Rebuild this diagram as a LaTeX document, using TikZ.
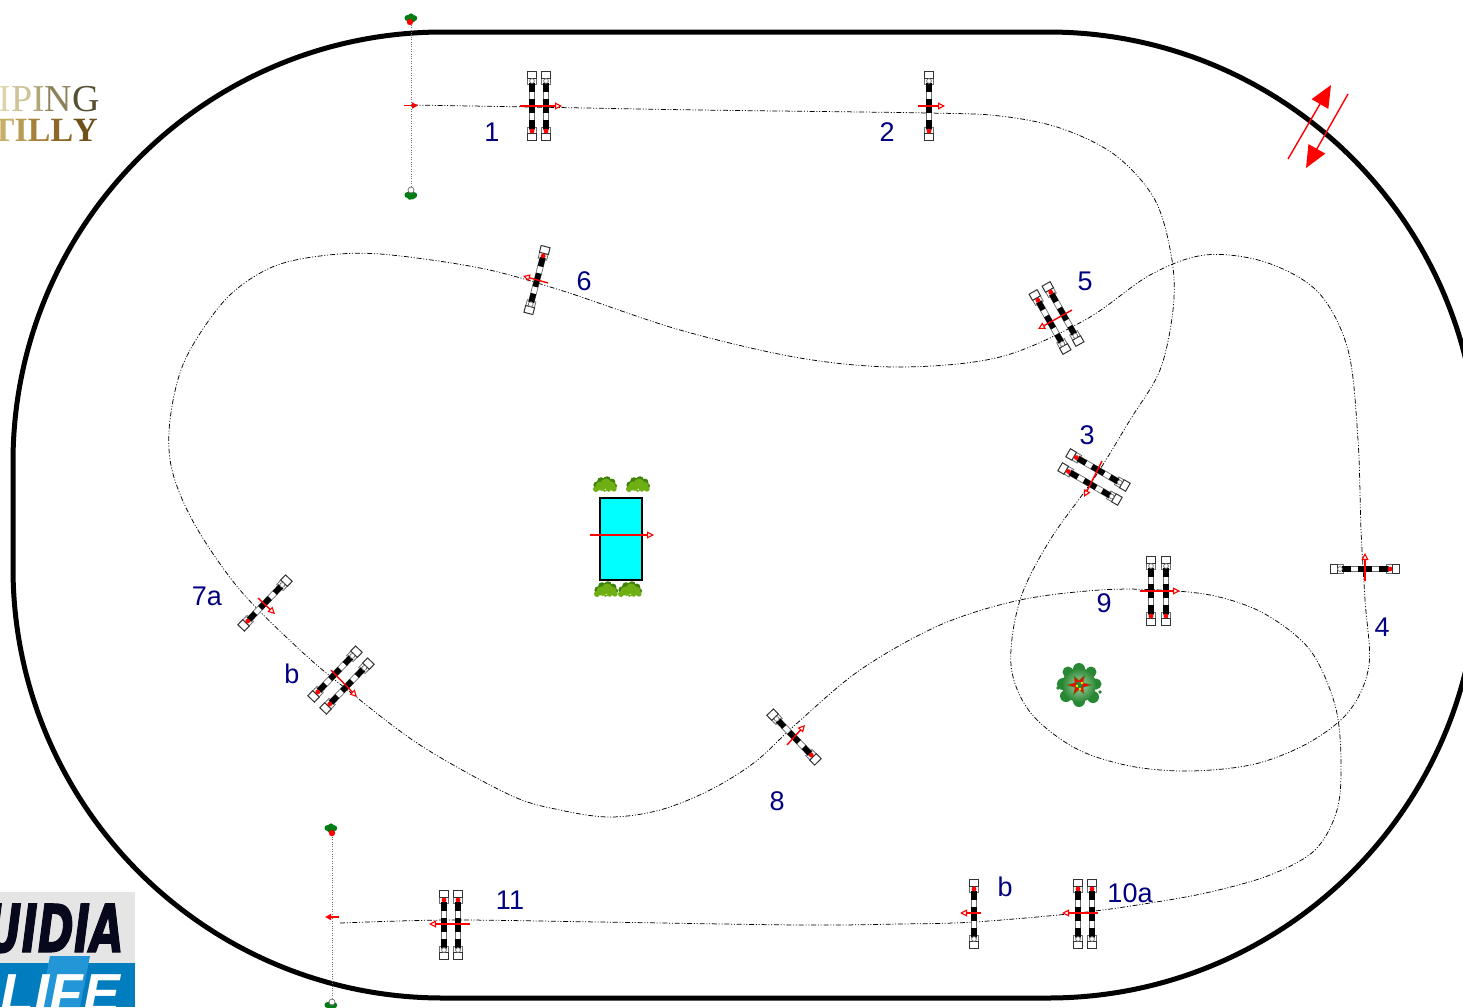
\documentclass[tikz,border=0pt]{standalone}
\usepackage{fontspec}
\usepackage{graphicx}
\setmainfont{Liberation Sans}
\newfontfamily\serifx{Liberation Serif}
\newfontfamily\eqfont[BoldItalicFeatures={FakeBold=2}]{DejaVu Sans}
\usetikzlibrary{arrows.meta}
\definecolor{labelblue}{RGB}{0,0,128}
\definecolor{flaggreen}{RGB}{0,125,20}
\definecolor{cyanbox}{RGB}{0,255,255}
\definecolor{leafgreen}{RGB}{110,175,20}
\definecolor{leafdark}{RGB}{65,130,10}
\definecolor{treegreen}{RGB}{40,135,50}
\definecolor{treelight}{RGB}{175,212,175}
\definecolor{gry}{RGB}{110,110,110}
\definecolor{eqblue}{RGB}{0,125,190}
\definecolor{eqtab}{RGB}{35,150,215}
\definecolor{eqgray}{RGB}{229,229,229}
\definecolor{eqink}{RGB}{8,8,28}
\tikzset{
  labeltext/.style={text=labelblue,font=\fontsize{27}{27}\selectfont,inner sep=0pt,anchor=center},
  course/.style={line width=.75pt,black,dash pattern=on 5pt off 1.8pt on 1pt off 1.8pt on 1pt off 1.8pt},
  gate/.style={line width=.8pt,gry,dash pattern=on 1pt off 1.4pt},
  dirarrow/.style={red,line width=1.4pt,-{Triangle[open,fill=white,length=7pt,width=7pt,line width=1.1pt]}},
  gatearrow/.style={red,line width=1.4pt,-{Triangle[length=6pt,width=6pt]}},
  bigarrow/.style={red,line width=1.4pt,-{Triangle[length=22pt,width=19pt]}},
  pics/barpole/.style={code={
    \draw[line width=.8pt,gry,fill=white] (-4.4,-27.5) rectangle (4.4,-21.5);
    \draw[line width=.8pt,gry,fill=white] (-4.4,27.5) rectangle (4.4,21.5);
    \draw[line width=1pt,black!80,fill=white] (-4.6,-34.5) rectangle (4.6,-27.5);
    \draw[line width=1pt,black!80,fill=white] (-4.6,34.5) rectangle (4.6,27.5);
    \draw[line width=.7pt,gry,fill=white] (-2.8,-23) rectangle (2.8,23);
    \fill[black] (-2.8,-23) rectangle (2.8,-14);
    \fill[black] (-2.8,-7) rectangle (2.8,7);
    \fill[black] (-2.8,14) rectangle (2.8,23);
    \draw[line width=.7pt,gry,fill=white] (0,-25) circle (2.4);
    \fill[red] (0,25) circle (2.4);
  }},
  pics/flagbush/.style={code={
    \fill[flaggreen] (-3.5,0) circle (3) (0,-1.6) circle (3) (3.2,.2) circle (3) (-1,2) circle (2.8) (1.6,1.8) circle (2.6);
  }},
  pics/leafbush/.style={code={
    \fill[leafdark] (-8,0) circle (3.6) (-4,-4) circle (3.8) (2,-5) circle (3.8) (7,-3) circle (3.4) (9,1) circle (3);
    \fill[leafgreen] (-9,4) circle (3) (-5,1) circle (4.5) (1,-1) circle (5.5) (6,1) circle (4.5) (9,4) circle (2.6) (-1,3.5) circle (3.5) (3,4) circle (3);
    \fill[white] (-2,6.2) circle (.9) (2,6.4) circle (.9) (.2,4.4) circle (.7);
  }},
}
\begin{document}
\begin{tikzpicture}[x=1pt,y=-1pt]
\clip (0,0) rectangle (1463,1007);
\fill[white] (0,0) rectangle (1463,1007);

% arena
\draw[line width=5pt,black,rounded corners=430pt] (13,32) rectangle (1478,998);

% logos
\node (logotop) [inner sep=0pt,anchor=base east,font=\serifx\fontsize{38}{38}\selectfont] at (100,111)
  {\textcolor[RGB]{222,212,170}{I}\textcolor[RGB]{205,195,150}{P}\textcolor[RGB]{175,165,120}{I}\textcolor[RGB]{140,130,90}{N}\textcolor[RGB]{85,80,50}{G}};
\node (logobot) [inner sep=0pt,anchor=base east,font=\serifx\bfseries\fontsize{34}{34}\selectfont] at (98,141)
  {\textcolor[RGB]{200,175,105}{T}\textcolor[RGB]{185,155,85}{I}\textcolor[RGB]{165,130,60}{L}\textcolor[RGB]{140,105,40}{L}\textcolor[RGB]{110,80,25}{Y}};

\fill[eqgray] (0,892) rectangle (135,964);
\fill[eqblue] (0,963) rectangle (135,1007);
\fill[eqtab] (50,956) -- (90,956) -- (80,1007) -- (40,1007) -- cycle;
\node (eqtop) [inner sep=0pt,anchor=base east,text=eqink,font=\eqfont\bfseries\itshape\fontsize{66}{66}\selectfont] at (124,952)
  {\scalebox{.66}[1]{UIDIA}};
\node (eqbot) [inner sep=0pt,anchor=base east,text=white,font=\bfseries\itshape\fontsize{55}{55}\selectfont] at (120,1012)
  {LIFE};

% course
\draw[course] plot[smooth,tension=.55] coordinates {
 (340,923) (450,920) (600,922) (800,925) (900,924) (974,922) (1078,913) (1150,903) (1210,892) (1270,875) (1315,850)
 (1337,810) (1341,760) (1335,705) (1310,650) (1265,614) (1215,596) (1160,590) (1100,590) (1020,600) (940,625) (860,670)
 (795,725) (755,762) (710,790) (660,810) (610,817) (560,810) (510,795) (420,745) (345,688) (300,650) (240,590)
 (195,525) (172,470) (170,420) (185,360) (225,300) (270,268) (320,256) (380,254) (480,268) (560,290) (680,330)
 (800,358) (900,367) (1000,357) (1085,320) (1150,275) (1205,255) (1265,262) (1318,292) (1348,350)
 (1358,440) (1361,530) (1365,600) (1369,665) (1350,710) (1310,742) (1255,764) (1190,771) (1130,766) (1075,748) (1030,712) (1011,665)
 (1020,600) (1050,540) (1095,477) (1130,420) (1160,370) (1173,310) (1172,260) (1155,200) (1115,155) (1060,128) (1000,116)
 (929,113) (700,110) (530,107) (411,105)};

% start and finish gates
\draw[gate] (411,20) -- (411,192);
\pic at (411,18) {flagbush};
\fill[red] (410,22) circle (3.2);
\pic at (411,195) {flagbush};
\draw[gry,line width=.7pt,fill=white] (411,190) circle (3);
\draw[gatearrow] (404,105.5) -- (418,105.5);

\draw[gate] (332,832) -- (332,1003);
\pic at (331,828) {flagbush};
\fill[red] (332,833) circle (3.2);
\pic at (331,1005) {flagbush};
\draw[gry,line width=.7pt,fill=white] (332,1002) circle (3);
\draw[gatearrow] (339,917) -- (325,917);

% obstacles
\pic at (532,106) {barpole};
\pic at (546,106) {barpole};
\draw[dirarrow] (520,106) -- (562,106);

\pic at (929,106) {barpole};
\draw[dirarrow] (918,106) -- (945,106);

\pic[rotate=-120] at (1098,470) {barpole};
\pic[rotate=-120] at (1090,484) {barpole};
\draw[dirarrow] (1102,461) -- (1084,497);

\pic[rotate=90] at (1365,569) {barpole};
\draw[dirarrow] (1365,581) -- (1365,553);

\pic[rotate=-150.6] at (1050,322) {barpole};
\pic[rotate=-150.6] at (1063,314) {barpole};
\draw[dirarrow] (1072,310) -- (1038,329);

\pic[rotate=165.5] at (537,280) {barpole};
\draw[dirarrow] (548,283) -- (523,276);

\pic[rotate=-43.8] at (265,603) {barpole};
\draw[dirarrow] (258,598) -- (275,614);

\pic[rotate=-43.8] at (335,674) {barpole};
\pic[rotate=-43.8] at (347,686) {barpole};
\draw[dirarrow] (331,670) -- (357,697);

\pic[rotate=43.8] at (794,737) {barpole};
\draw[dirarrow] (787,745) -- (805,725);

\pic at (1151,591) {barpole};
\pic at (1166,591) {barpole};
\draw[dirarrow] (1140,591) -- (1180,591);

\pic[rotate=180] at (1078,914) {barpole};
\pic[rotate=180] at (1092,914) {barpole};
\draw[dirarrow] (1098,913) -- (1062,913);

\pic[rotate=180] at (974,914) {barpole};
\draw[dirarrow] (981,913) -- (960,913);

\pic[rotate=180] at (444,925) {barpole};
\pic[rotate=180] at (458,925) {barpole};
\draw[dirarrow] (470,924) -- (429,924);

% water box
\draw[line width=2pt,black,fill=cyanbox] (600,498) rectangle (642,580);
\draw[dirarrow] (590,535) -- (654,535);
\pic at (605,485) {leafbush};
\pic at (638,485) {leafbush};
\pic at (606,590) {leafbush};
\pic at (630,590) {leafbush};

% tree
\fill[treegreen] (1068,672) circle (5.5) (1079,669) circle (6) (1091,672) circle (5.5) (1063,684) circle (6)
  (1096,684) circle (5.5) (1066,696) circle (6) (1079,701) circle (6) (1093,697) circle (6) (1058,688) circle (1.8) (1100,692) circle (1.8);
\shade[inner color=treelight,outer color=treegreen] (1079,685) circle (17);
\fill[red,draw=leafdark,line width=.5pt,shift={(1079,685)}] (0:12) -- (30:4.5) -- (60:10) -- (90:4.5) -- (120:11) -- (150:4.5) -- (180:12) -- (210:4.5) -- (240:10) -- (270:4.5) -- (300:11) -- (330:4.5) -- cycle;
\fill[treegreen] (1079,685) circle (3.5);
\fill[yellow] (1077,686) circle (1.3) (1082,683) circle (1.3) (1080,689) circle (1.3);

% direction of the arena
\draw[bigarrow] (1288,159) -- (1331,85);
\draw[bigarrow] (1348,94) -- (1306,168);

% labels
\node[labeltext] (l1) at (492,132) {1};
\node[labeltext] (l2) at (887,132) {2};
\node[labeltext] (l3) at (1087,435) {3};
\node[labeltext] (l4) at (1382,627) {4};
\node[labeltext] (l5) at (1085,281) {5};
\node[labeltext] (l6) at (584,281) {6};
\node[labeltext] (l7a) at (207,596) {7a};
\node[labeltext] (l7b) at (292,674) {b};
\node[labeltext] (l8) at (777,801) {8};
\node[labeltext] (l9) at (1104,603) {9};
\node[labeltext] (l10a) at (1130,893) {10a};
\node[labeltext] (l10b) at (1005,887) {b};
\node[labeltext] (l11) at (510,900) {11};
\end{tikzpicture}
\end{document}
